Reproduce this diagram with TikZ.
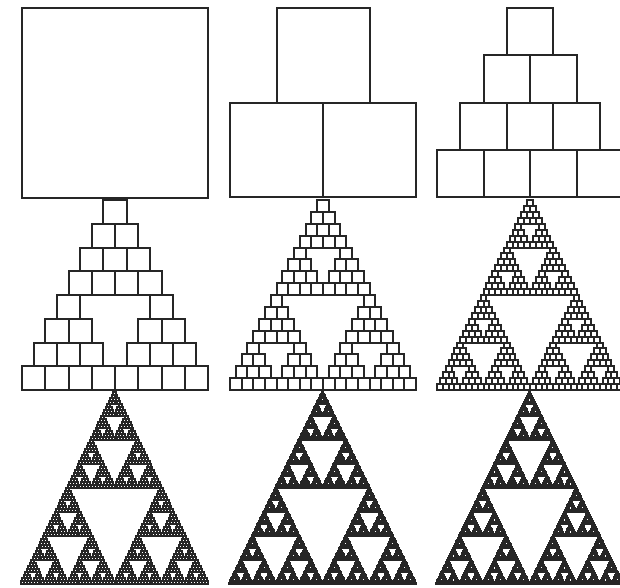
\documentclass[tikz,border=0pt]{standalone}
\usepackage{tikz}

% block pyramid with #1 rows, in a #1 x #1 box (y runs down)
\newcommand{\Pyramid}[1]{%
  \draw[block] \foreach \row in {1,...,#1}{
    \foreach \col in {1,...,\row}{ ({(#1-\row)/2+\col-1},\row-1) rectangle ++(1,1) }
  };}
% three half-size copies, down to the 4-row pyramid
\newcommand{\Sierp}[1]{%
  \ifnum#1=0
    \Pyramid{4}%
  \else
    \begin{scope}[shift={(1,0)},scale=.5]\expandafter\Sierp\expandafter{\the\numexpr#1-1\relax}\end{scope}%
    \begin{scope}[shift={(0,2)},scale=.5]\expandafter\Sierp\expandafter{\the\numexpr#1-1\relax}\end{scope}%
    \begin{scope}[shift={(2,2)},scale=.5]\expandafter\Sierp\expandafter{\the\numexpr#1-1\relax}\end{scope}%
  \fi}

\tikzset{block/.style={draw=black!85,line width=2pt}}

\begin{document}
\begin{tikzpicture}[x=1pt,y=-1pt]
\useasboundingbox (0,0) rectangle (620,587);
% top row
\begin{scope}[shift={(22,8)},xscale=186,yscale=190] \Pyramid{1} \end{scope}
\begin{scope}[shift={(230,8)},xscale=93,yscale=94.5] \Pyramid{2} \end{scope}
\begin{scope}[shift={(437,8)},xscale=46.5,yscale=47.25] \Pyramid{4} \end{scope}
% middle row
\begin{scope}[shift={(22,200)},xscale=46.5,yscale=47.5] \Sierp{1} \end{scope}
\begin{scope}[shift={(230,200)},xscale=46.5,yscale=47.5] \Sierp{2} \end{scope}
\begin{scope}[shift={(437,200)},xscale=46.5,yscale=47.5] \Sierp{3} \end{scope}
% bottom row
\begin{scope}[shift={(21,392)},xscale=46.75,yscale=48] \Sierp{4} \end{scope}
\begin{scope}[shift={(229,392)},xscale=46.75,yscale=48] \Sierp{5} \end{scope}
\begin{scope}[shift={(436,392)},xscale=46.75,yscale=48] \Sierp{6} \end{scope}
\end{tikzpicture}
\end{document}
